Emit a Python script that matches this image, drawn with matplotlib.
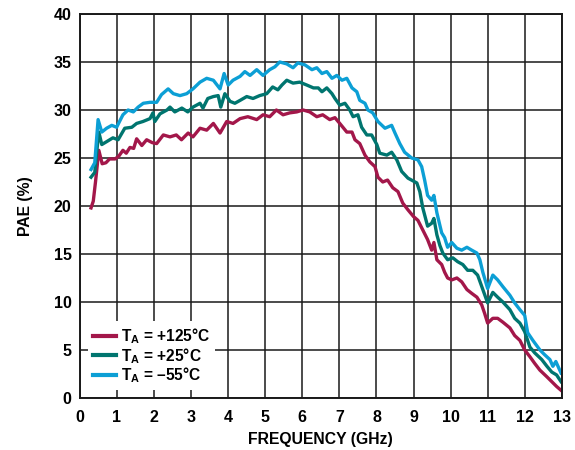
import matplotlib
matplotlib.use("Agg")
import matplotlib.pyplot as plt

# PAE vs frequency
freq_125 = [0.30, 0.36, 0.42, 0.51, 0.60, 0.70, 0.80, 0.95, 1.05, 1.16, 1.25, 1.35, 1.45, 1.53,
            1.67, 1.80, 1.95, 2.07, 2.25, 2.43, 2.60, 2.74, 2.92, 3.05, 3.24, 3.42, 3.60, 3.78,
            3.96, 4.13, 4.32, 4.53, 4.77, 4.94, 5.12, 5.30, 5.48, 5.66, 5.85, 6.02, 6.20, 6.39,
            6.55, 6.74, 6.88, 7.01, 7.20, 7.34, 7.42, 7.55, 7.69, 7.82, 7.96, 8.04, 8.17, 8.30,
            8.44, 8.58, 8.71, 8.85, 9.00, 9.12, 9.25, 9.38, 9.49, 9.55, 9.63, 9.76, 9.84, 9.92,
            10.03, 10.17, 10.30, 10.44, 10.57, 10.71, 10.84, 10.92, 11.00, 11.14, 11.27, 11.41,
            11.60, 11.73, 11.87, 12.00, 12.14, 12.27, 12.41, 12.60, 12.73, 12.86, 12.98]
pae_125 = [19.8, 20.5, 22.5, 25.8, 24.4, 24.5, 24.9, 24.9, 25.2, 25.8, 25.5, 26.1, 26.0, 27.0,
           26.3, 26.9, 26.6, 26.5, 27.4, 27.2, 27.4, 26.9, 27.6, 27.2, 28.1, 27.9, 28.6, 27.6,
           28.8, 28.6, 29.1, 29.3, 29.0, 29.5, 29.3, 30.0, 29.5, 29.7, 29.8, 30.0, 29.8, 29.3,
           29.5, 29.0, 29.2, 28.6, 27.7, 27.7, 26.9, 26.5, 25.3, 24.6, 24.1, 23.0, 22.5, 22.7,
           21.9, 21.5, 20.3, 19.6, 18.9, 18.5, 17.5, 16.5, 15.4, 16.2, 14.4, 13.9, 13.1, 12.5,
           12.3, 12.5, 12.1, 11.3, 10.9, 10.5, 9.7, 8.8, 7.8, 8.3, 8.3, 7.9,
           7.3, 6.5, 6.0, 5.0, 4.3, 3.6, 2.9, 2.2, 1.7, 1.2, 0.8]

freq_25 = [0.30, 0.40, 0.45, 0.51, 0.59, 0.72, 0.89, 1.03, 1.21, 1.40, 1.53, 1.70, 1.89, 1.97,
           2.02, 2.16, 2.35, 2.43, 2.56, 2.75, 2.91, 3.05, 3.24, 3.32, 3.45, 3.60, 3.73, 3.80,
           3.91, 4.05, 4.18, 4.32, 4.50, 4.67, 4.85, 5.04, 5.20, 5.34, 5.45, 5.58, 5.75, 5.93,
           6.12, 6.30, 6.43, 6.53, 6.66, 6.80, 6.88, 7.01, 7.15, 7.28, 7.37, 7.50, 7.60, 7.74,
           7.87, 8.01, 8.09, 8.28, 8.41, 8.55, 8.68, 8.85, 9.09, 9.17, 9.25, 9.38, 9.49, 9.55,
           9.63, 9.71, 9.79, 9.92, 10.06, 10.19, 10.33, 10.46, 10.60, 10.73, 10.87, 11.00,
           11.14, 11.27, 11.41, 11.60, 11.73, 11.87, 12.00, 12.14, 12.27, 12.46, 12.60, 12.73,
           12.86, 12.98]
pae_25 = [23.0, 23.5, 25.5, 27.7, 26.4, 26.7, 27.1, 26.9, 28.1, 28.2, 28.6, 28.8, 29.1, 29.7,
          28.8, 29.6, 30.0, 30.3, 29.8, 30.2, 29.8, 30.3, 30.7, 30.2, 31.2, 31.4, 31.5, 30.3,
          31.7, 30.9, 30.7, 31.0, 31.4, 31.2, 31.5, 31.7, 32.4, 32.1, 32.6, 33.1, 32.8, 32.9,
          32.6, 32.3, 32.3, 31.9, 32.3, 31.7, 31.2, 30.5, 30.7, 30.0, 29.3, 29.5, 28.2, 27.4,
          27.4, 26.4, 25.5, 25.3, 25.6, 24.8, 23.6, 22.9, 22.4, 21.5, 19.8, 17.9, 18.2, 18.7,
          17.0, 15.9, 15.1, 14.4, 14.6, 14.2, 13.9, 13.3, 13.3, 12.8, 11.3, 9.9,
          11.0, 10.5, 10.0, 9.2, 8.3, 7.8, 6.9, 5.3, 4.7, 4.0, 3.3, 2.7,
          2.4, 1.7]

freq_m55 = [0.30, 0.40, 0.45, 0.49, 0.59, 0.72, 0.86, 0.99, 1.16, 1.30, 1.44, 1.57, 1.71, 1.89,
            2.07, 2.20, 2.38, 2.52, 2.70, 2.88, 3.05, 3.24, 3.42, 3.60, 3.78, 3.89, 4.00, 4.13,
            4.32, 4.45, 4.59, 4.77, 4.94, 5.12, 5.26, 5.39, 5.58, 5.75, 5.88, 6.07, 6.26, 6.39,
            6.53, 6.66, 6.80, 6.93, 7.07, 7.20, 7.34, 7.47, 7.55, 7.69, 7.77, 7.90, 8.04, 8.23,
            8.41, 8.50, 8.63, 8.76, 8.95, 9.12, 9.22, 9.30, 9.38, 9.49, 9.55, 9.63, 9.71, 9.76,
            9.84, 9.92, 10.03, 10.17, 10.30, 10.44, 10.57, 10.71, 10.79, 10.87, 11.00, 11.14,
            11.27, 11.41, 11.60, 11.73, 11.87, 12.00, 12.08, 12.22, 12.41, 12.54, 12.68, 12.76,
            12.84, 12.98]
pae_m55 = [23.8, 24.5, 27.0, 29.0, 27.7, 28.1, 28.4, 28.2, 29.5, 30.0, 29.8, 30.3, 30.7, 30.8,
           30.8, 31.6, 32.2, 31.7, 31.5, 31.7, 32.2, 32.9, 33.3, 33.1, 32.2, 33.8, 32.6, 33.1,
           33.5, 34.0, 33.6, 34.2, 33.6, 34.2, 34.5, 35.0, 34.8, 34.4, 34.9, 34.7, 34.2, 34.4,
           33.8, 34.0, 33.3, 33.6, 33.1, 33.3, 32.3, 31.9, 31.0, 30.7, 30.0, 29.7, 28.8, 28.1,
           28.4, 27.6, 26.5, 25.6, 25.0, 24.8, 24.1, 22.7, 21.1, 20.6, 21.1, 19.3, 18.0, 17.2,
           16.7, 15.7, 16.2, 15.6, 15.4, 15.7, 15.4, 15.1, 14.4, 13.1, 11.4, 12.8,
           12.3, 11.6, 10.7, 9.9, 9.2, 8.6, 6.8, 6.0, 5.0, 4.5, 4.0, 3.3,
           3.8, 2.6]

labels = [r"$\mathbf{T_A}$ = +125°C", r"$\mathbf{T_A}$ = +25°C", r"$\mathbf{T_A}$ = –55°C"]
colors = ["#a3174a", "#00756f", "#0c9fd5"]

plt.rcParams["font.family"] = ["Liberation Sans", "DejaVu Sans"]
plt.rcParams["font.weight"] = "bold"
plt.rcParams["mathtext.fontset"] = "custom"
plt.rcParams["mathtext.bf"] = "Liberation Sans:bold"
plt.rcParams["mathtext.rm"] = "Liberation Sans:bold"

fig = plt.figure(figsize=(5.75, 4.5), dpi=100)
ax = fig.add_axes([0.139, 0.1156, 0.838, 0.8533])

series = [(freq_125, pae_125), (freq_25, pae_25), (freq_m55, pae_m55)]
for (f, p), lab, c in zip(series, labels, colors):
    ax.plot(f, p, color=c, lw=2.4, label=lab, solid_joinstyle="round")

ax.set_xlim(0, 13)
ax.set_ylim(0, 40)
ax.set_xticks(range(0, 14))
ax.set_yticks(range(0, 41, 5))
ax.grid(True, color="#1a1a1a", lw=1.1)
ax.set_axisbelow(True)
for s in ax.spines.values():
    s.set_linewidth(1.4)
    s.set_color("#1a1a1a")
ax.tick_params(length=0, labelsize=11.5)
ax.tick_params(axis="x", pad=9)
ax.tick_params(axis="y", pad=6)
for t in ax.get_xticklabels() + ax.get_yticklabels():
    t.set_fontweight("bold")

ax.set_xlabel("FREQUENCY (GHz)", fontsize=11.3, fontweight="bold", labelpad=5)
ax.set_ylabel("PAE (%)", fontsize=11.3, fontweight="bold", labelpad=15)

leg = ax.legend(loc="lower left", bbox_to_anchor=(0.0166, 0.021), fontsize=11.2,
                frameon=True, fancybox=False, framealpha=1, edgecolor="none",
                handlelength=1.5, handletextpad=0.35, labelspacing=0.0,
                borderpad=0.3, borderaxespad=0)
for line in leg.get_lines():
    line.set_linewidth(3.0)

fig.savefig("out.png", dpi=100)
